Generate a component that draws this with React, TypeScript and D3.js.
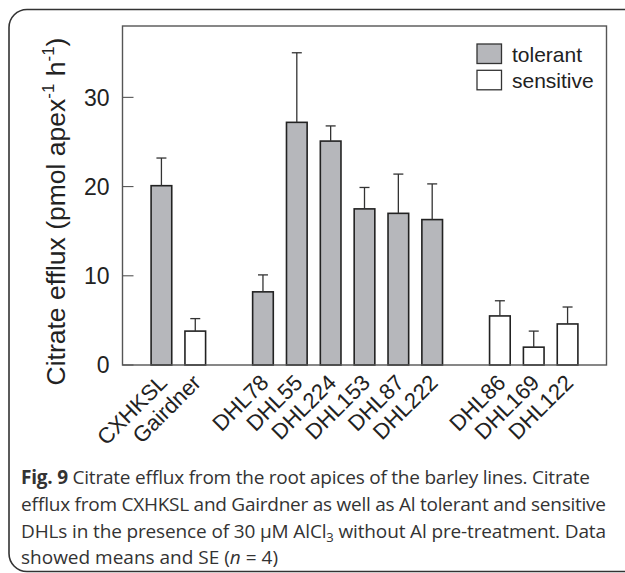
import * as React from "react";
import { useRef, useEffect } from "react";
import * as d3 from "d3";

// barley lines, in plotted order
const lines = ["CXHKSL", "Gairdner", "DHL78", "DHL55", "DHL224", "DHL153", "DHL87", "DHL222", "DHL86", "DHL169", "DHL122"];
const response = ["tolerant", "sensitive", "tolerant", "tolerant", "tolerant", "tolerant", "tolerant", "tolerant", "sensitive", "sensitive", "sensitive"];
// 0 = parents, 1 = tolerant DHLs, 2 = sensitive DHLs
const lineSet = [0, 0, 1, 1, 1, 1, 1, 1, 2, 2, 2];
const means = [20.1, 3.8, 8.2, 27.2, 25.1, 17.5, 17.0, 16.3, 5.5, 2.0, 4.6];
const errors = [3.1, 1.4, 1.9, 7.8, 1.7, 2.4, 4.4, 4.0, 1.7, 1.8, 1.9];
const yTicks = [0, 10, 20, 30];
const legendItems = ["tolerant", "sensitive"];

const fills = { tolerant: "#b6b7bb", sensitive: "#ffffff" };

const Chart = () => {
  const svgRef = useRef(null);

  useEffect(() => {
    const width = 625;
    const height = 573;
    const frame = { left: 122.5, top: 26, right: 606.5, bottom: 365 };
    const font = "'Liberation Sans', Arial, sans-serif";

    const svg = d3.select(svgRef.current).attr("width", width).attr("height", height);
    svg.selectAll("*").remove();

    // rounded panel round the whole figure
    svg
      .append("rect")
      .attr("x", 9)
      .attr("y", 9.5)
      .attr("width", 680)
      .attr("height", 562)
      .attr("rx", 18)
      .attr("fill", "none")
      .attr("stroke", "#333")
      .attr("stroke-width", 1.6);

    // one slot per line, with an empty slot between sets
    const slots = [];
    lines.forEach((name, i) => {
      if (i > 0 && lineSet[i] !== lineSet[i - 1]) slots.push(`gap${lineSet[i]}`);
      slots.push(name);
    });

    const x = d3
      .scaleBand()
      .domain(slots)
      .range([frame.left + 22, frame.right - 22])
      .paddingInner(0.39)
      .paddingOuter(0.195);
    const y = d3.scaleLinear().domain([0, 38]).range([frame.bottom, frame.top]);

    const g = svg.append("g");

    // ticks point inwards
    yTicks.forEach((t) => {
      g.append("line")
        .attr("x1", frame.left)
        .attr("x2", frame.left + 11)
        .attr("y1", y(t))
        .attr("y2", y(t))
        .attr("stroke", "#555")
        .attr("stroke-width", 1.1);
      g.append("text")
        .attr("x", frame.left - 13)
        .attr("y", y(t))
        .attr("dy", "0.36em")
        .attr("text-anchor", "end")
        .attr("font-family", font)
        .attr("font-size", 23)
        .attr("fill", "#222")
        .text(t);
    });

    // bars
    lines.forEach((name, i) => {
      g.append("rect")
        .attr("x", x(name))
        .attr("y", y(means[i]))
        .attr("width", x.bandwidth())
        .attr("height", y(0) - y(means[i]))
        .attr("fill", fills[response[i]])
        .attr("stroke", "#222")
        .attr("stroke-width", 1.6);

      const cx = x(name) + x.bandwidth() / 2;
      const top = y(means[i] + errors[i]);
      g.append("line")
        .attr("x1", cx)
        .attr("x2", cx)
        .attr("y1", y(means[i]))
        .attr("y2", top)
        .attr("stroke", "#333")
        .attr("stroke-width", 1.3);
      g.append("line")
        .attr("x1", cx - 5)
        .attr("x2", cx + 5)
        .attr("y1", top)
        .attr("y2", top)
        .attr("stroke", "#333")
        .attr("stroke-width", 1.3);

      g.append("text")
        .attr("transform", `translate(${cx + 7},${frame.bottom + 19}) rotate(-45)`)
        .attr("text-anchor", "end")
        .attr("font-family", font)
        .attr("font-size", 22)
        .attr("fill", "#222")
        .text(name);
    });

    // plot frame
    g.append("rect")
      .attr("x", frame.left)
      .attr("y", frame.top)
      .attr("width", frame.right - frame.left)
      .attr("height", frame.bottom - frame.top)
      .attr("fill", "none")
      .attr("stroke", "#555")
      .attr("stroke-width", 1.4);

    // y axis title
    const yTitle = g
      .append("text")
      .attr("transform", `translate(65,211.5) rotate(-90)`)
      .attr("text-anchor", "middle")
      .attr("font-family", font)
      .attr("font-size", 26.5)
      .attr("fill", "#222");
    yTitle.append("tspan").text("Citrate efflux (pmol apex");
    yTitle.append("tspan").attr("dy", -11).attr("font-size", 17).text("-1");
    yTitle.append("tspan").attr("dy", 11).text(" h");
    yTitle.append("tspan").attr("dy", -11).attr("font-size", 17).text("-1");
    yTitle.append("tspan").attr("dy", 11).text(")");

    // legend
    legendItems.forEach((item, i) => {
      g.append("rect")
        .attr("x", 477)
        .attr("y", 44 + i * 26.3)
        .attr("width", 24.5)
        .attr("height", 19.5)
        .attr("fill", fills[item])
        .attr("stroke", "#333")
        .attr("stroke-width", 1.3);
      g.append("text")
        .attr("x", 512)
        .attr("y", 62 + i * 26.3)
        .attr("font-family", font)
        .attr("font-size", 21)
        .attr("fill", "#222")
        .text(item);
    });

    // caption
    const cap = svg
      .append("g")
      .attr("font-family", "'Open Sans', sans-serif")
      .attr("font-size", 19)
      .attr("fill", "#333");
    const l1 = cap.append("text").attr("x", 21).attr("y", 484).attr("textLength", 569).attr("lengthAdjust", "spacing");
    l1.append("tspan").attr("font-weight", "bold").text("Fig. 9");
    l1.append("tspan").text(" Citrate efflux from the root apices of the barley lines. Citrate");
    cap.append("text")
      .attr("x", 21)
      .attr("y", 511)
      .attr("textLength", 585)
      .attr("lengthAdjust", "spacing")
      .text("efflux from CXHKSL and Gairdner as well as Al tolerant and sensitive");
    const l3 = cap.append("text").attr("x", 21).attr("y", 538).attr("textLength", 585).attr("lengthAdjust", "spacing");
    l3.append("tspan").text("DHLs in the presence of 30 μM AlCl");
    l3.append("tspan").attr("dy", 4).attr("font-size", 13).text("3");
    l3.append("tspan").attr("dy", -4).text(" without Al pre-treatment. Data");
    const l4 = cap.append("text").attr("x", 21).attr("y", 564);
    l4.append("tspan").text("showed means and SE (");
    l4.append("tspan").attr("font-style", "italic").text("n");
    l4.append("tspan").text(" = 4)");
  }, []);

  return <svg ref={svgRef} style={{ position: "absolute", left: 0, top: 0, display: "block" }}></svg>;
};

export default function App() {
  return <Chart />;
}
